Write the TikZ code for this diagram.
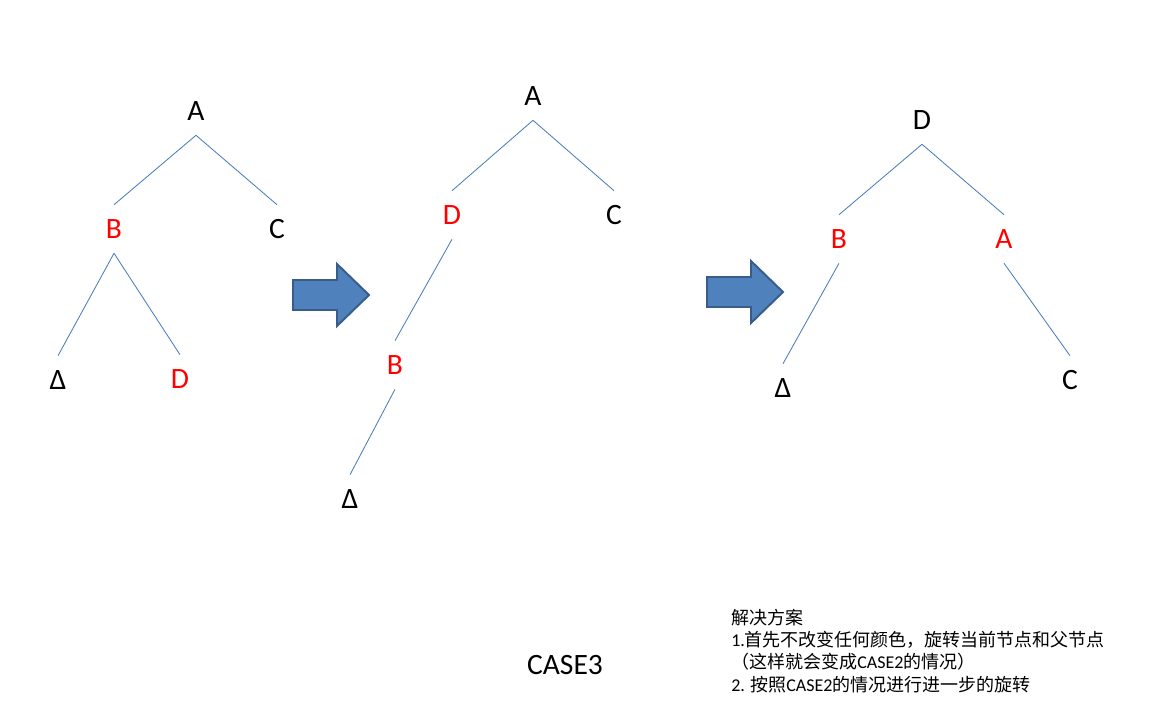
\documentclass[tikz,border=0pt]{standalone}
\usepackage{fontspec}
\setmainfont{Carlito}
\newfontfamily\cjk{Noto Sans CJK SC}
\usetikzlibrary{positioning}
\definecolor{edgeblue}{HTML}{4A7EBB}
\definecolor{arrowfill}{HTML}{4F81BD}
\definecolor{arrowdraw}{HTML}{385D8A}

\begin{document}
\begin{tikzpicture}[x=0.025cm, y=-0.025cm,
    tnode/.style={font=\fontsize{21}{24}\selectfont, minimum height=1.2cm, inner sep=0pt},
    rnode/.style={tnode, text=red},
    edge/.style={draw=edgeblue, line width=0.6pt},
    bigarrow/.style={fill=arrowfill, draw=arrowdraw, line width=1.4pt}]
            \useasboundingbox (0,0) rectangle (1174,722);

            % first tree
            \node[tnode] (a1) at (196,111) {A};
            \node[rnode] (b1) at (114,229) {B};
            \node[tnode] (c1) at (277,229) {C};
            \node[tnode] (n1) at (58,380) {Δ};
            \node[rnode] (d1) at (180,379) {D};
            \draw[edge] (a1.south) -- (b1.north);
            \draw[edge] (a1.south) -- (c1.north);
            \draw[edge] (b1.south) -- (n1.north);
            \draw[edge] (b1.south) -- (d1.north);

            % second tree
            \node[tnode] (a2) at (533,96) {A};
            \node[rnode] (d2) at (452,215) {D};
            \node[tnode] (c2) at (614,215) {C};
            \node[rnode] (b2) at (395,365) {B};
            \node[tnode] (n2) at (350,499) {Δ};
            \draw[edge] (a2.south) -- (d2.north);
            \draw[edge] (a2.south) -- (c2.north);
            \draw[edge] (d2.south) -- (b2.north);
            \draw[edge] (b2.south) -- (n2.north);

            % third tree
            \node[tnode] (d3) at (922,120) {D};
            \node[rnode] (b3) at (839,239) {B};
            \node[rnode] (a3) at (1004,239) {A};
            \node[tnode] (n3) at (783,388) {Δ};
            \node[tnode] (c3) at (1070,380) {C};
            \draw[edge] (d3.south) -- (b3.north);
            \draw[edge] (d3.south) -- (a3.north);
            \draw[edge] (b3.south) -- (n3.north);
            \draw[edge] (a3.south) -- (c3.north);

            % block arrows
            \foreach \x/\y in {293/295, 707/292}
                \draw[bigarrow] (\x,{\y-15}) -- ({\x+44},{\y-15}) -- ({\x+44},{\y-31})
                    -- ({\x+76},\y) -- ({\x+44},{\y+31}) -- ({\x+44},{\y+15})
                    -- (\x,{\y+15}) -- cycle;

            \node[font=\fontsize{21}{24}\selectfont] (title) at (565,665) {CASE3};
            \node[anchor=north west, align=left, inner sep=0pt,
                  font=\fontsize{12.8}{15.8}\selectfont] (plan) at (731,609)
                {{\cjk 解决方案}\\
                 1.{\cjk 首先不改变任何颜色，旋转当前节点和父节点}\\
                 {\cjk （这样就会变成}CASE2{\cjk 的情况）}\\
                 2. {\cjk 按照}CASE2{\cjk 的情况进行进一步的旋转}};
        \end{tikzpicture}
\end{document}
